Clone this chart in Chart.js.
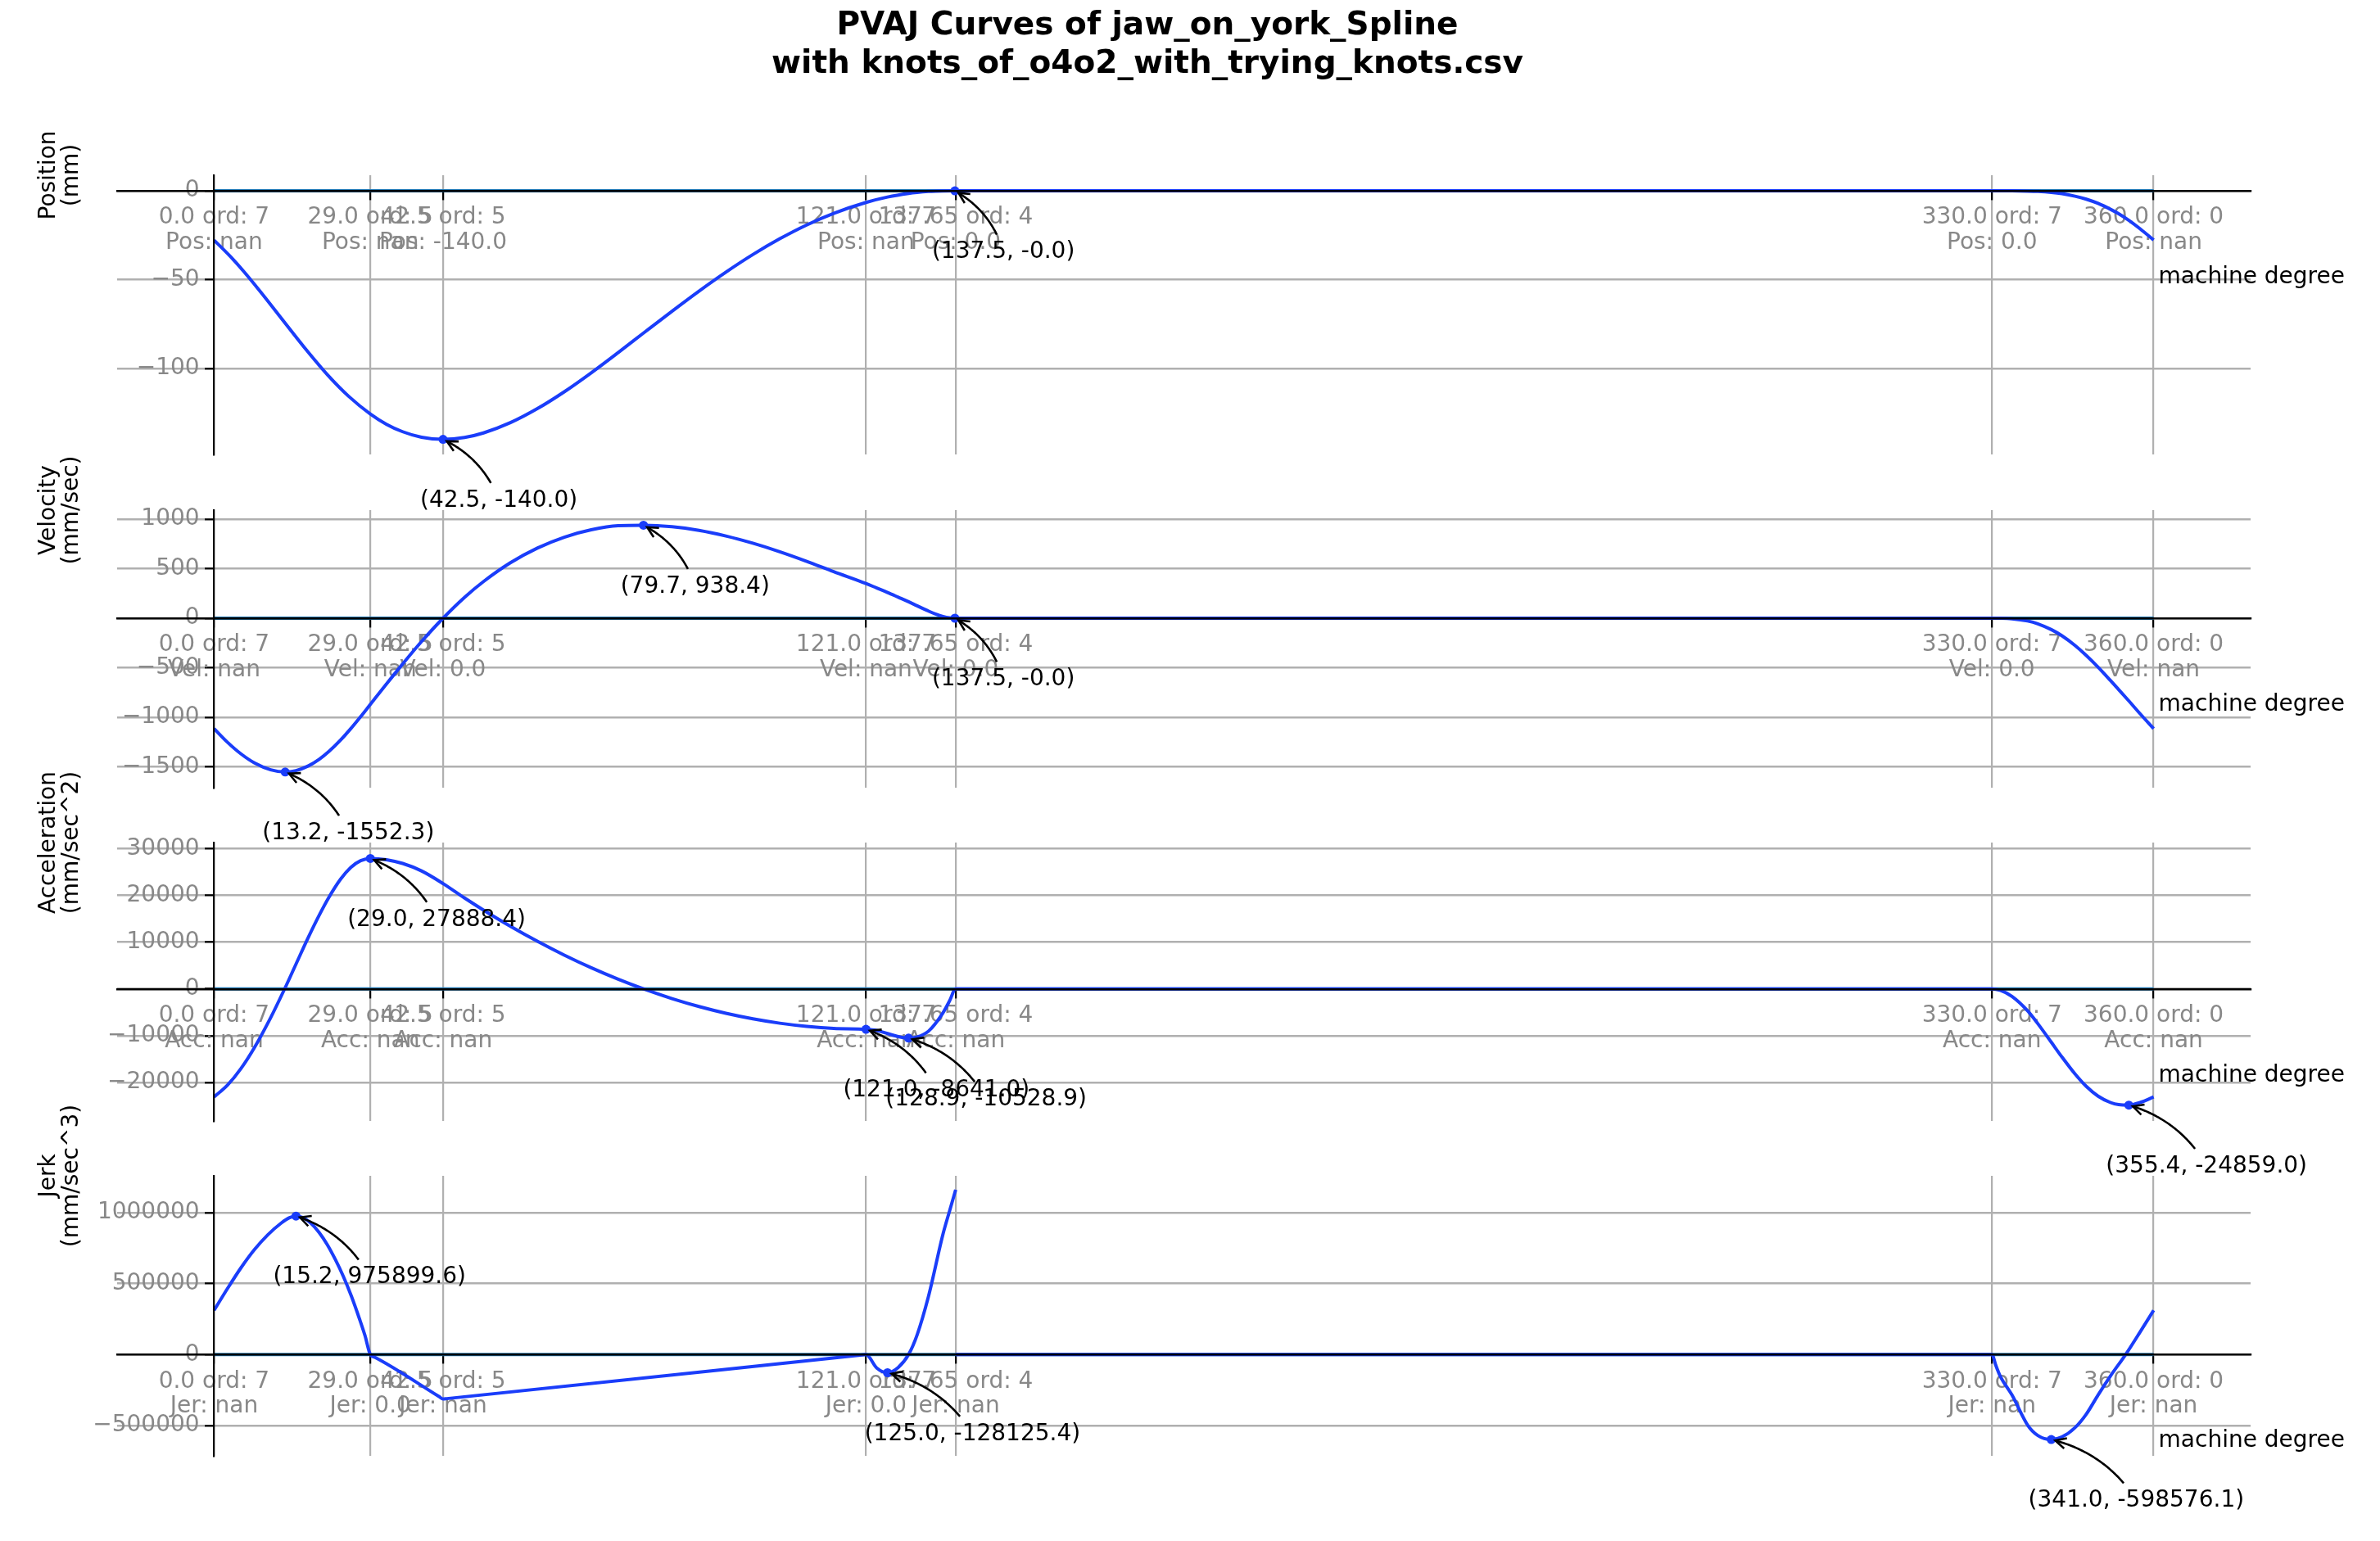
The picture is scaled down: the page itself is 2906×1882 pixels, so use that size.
<!DOCTYPE html>
<html>
<head>
<meta charset="utf-8">
<title>PVAJ Curves</title>
<script src="https://cdn.jsdelivr.net/npm/chart.js@4.4.1/dist/chart.umd.min.js"></script>
<style>
  html, body { margin:0; padding:0; background:#ffffff; }
  #wrap { position:relative; width:2906px; height:1882px; background:#ffffff; overflow:hidden; }
  #wrap canvas { position:absolute; left:0; top:0; width:2906px; height:1882px; }
</style>
</head>
<body>
<div id="wrap">
  <canvas id="c0" width="2906" height="1882"></canvas>
  <canvas id="c1" width="2906" height="1882"></canvas>
  <canvas id="c2" width="2906" height="1882"></canvas>
  <canvas id="c3" width="2906" height="1882"></canvas>
</div>
<script>
// ================= DATA =================
const titleLines = ['PVAJ Curves of jaw_on_york_Spline', 'with knots_of_o4o2_with_trying_knots.csv'];
const xAxisLabel = 'machine degree';

// knots (x ticks)
const knotX    = [0, 29, 42.5, 121, 137.65, 330, 360];
const knotText = ['0.0', '29.0', '42.5', '121.0', '137.65', '330.0', '360.0'];
const knotOrd  = [7, 5, 5, 7, 4, 7, 0];
const knotPos  = ['nan', 'nan', '-140.0', 'nan', '0.0', '0.0', 'nan'];
const knotVel  = ['nan', 'nan', '0.0', 'nan', '0.0', '0.0', 'nan'];
const knotAcc  = ['nan', 'nan', 'nan', 'nan', 'nan', 'nan', 'nan'];
const knotJer  = ['nan', '0.0', 'nan', '0.0', 'nan', 'nan', 'nan'];

// y tick values
const posTicks = [0, -50, -100];
const velTicks = [1000, 500, 0, -500, -1000, -1500];
const accTicks = [30000, 20000, 10000, 0, -10000, -20000];
const jerTicks = [1000000, 500000, 0, -500000];

// Position curve (deg, mm)
const posX = [0, 2.9, 5.5, 8.2, 11, 13.2, 16.8, 21.1, 25, 29, 32, 35, 38.5, 42.5, 46.5, 50, 55, 60, 65, 70, 75, 79.7, 85, 90, 95, 100, 105, 110, 115, 121, 125, 128.9, 130.5, 132.6, 134, 135.3, 137.65,
              330, 333.7, 336.6, 338.5, 341, 343, 345.4, 347.5, 349.7, 352, 353.5, 355.4, 357.5, 360];
const posY = [-27.8, -36.6, -45.4, -55.3, -66, -74.6, -88.4, -103.8, -115.8, -125.7, -131.5, -135.7, -138.8, -140, -138.95, -136.4, -130.6, -122.7, -113.2, -102.5, -91.1, -80.1, -67.8, -56.5, -45.8, -35.9, -27, -19.2, -12.7, -6.55, -3.5, -1.43, -0.85, -0.33, -0.14, -0.04, 0,
              0, -0.02, -0.14, -0.34, -0.88, -1.62, -3.0, -4.7, -7.1, -10.4, -12.9, -16.6, -21.4, -27.7];

// Velocity curve (deg, mm/sec)
const velX = [0, 2.5, 5, 7.5, 10.5, 13.2, 15.2, 17.5, 19.5, 21.3, 23.5, 25.4, 27.2, 29, 32, 35, 38.5, 42.5, 46.5, 50, 55, 60, 65, 70, 75, 79.7, 85, 90, 95, 100, 105, 110, 115, 121, 123, 125, 127, 128.9, 130.5, 132.6, 134, 135.3, 136.5, 137.65,
              330, 331.5, 333.7, 336.6, 338.5, 341, 343, 345.4, 347.5, 349.7, 352, 353.5, 355.4, 357.5, 360];
const velY = [-1115, -1253, -1370, -1461, -1530, -1552.3, -1538, -1491, -1425, -1346, -1229, -1113, -994, -870, -664, -462, -236, 0, 211, 370, 560, 708, 818, 892, 934, 938.4, 924, 887, 830, 757, 671, 574, 470, 350, 305, 260, 212, 166, 125, 72, 40, 18, 5, 0,
              0, -0.6, -6, -28, -56, -115, -178, -275, -376, -495, -630, -720, -835, -965, -1115];

// Acceleration curve (deg, mm/sec^2)
const accX = [0, 2.5, 5, 7.5, 10.5, 13, 15.2, 17.5, 19.5, 21.3, 23.5, 25.4, 27.2, 29, 32, 35, 38.5, 42.5, 46.5, 50, 55, 60, 65, 70, 75, 80, 85, 90, 95, 100, 105, 110, 115, 121, 123, 125, 127, 128.9, 130.5, 132.6, 135.3, 136.5, 137.65,
              330, 331.5, 333.7, 336.6, 338.5, 341, 343, 345.4, 347.5, 349.7, 352, 353.5, 355.4, 357.5, 360];
const accY = [-23117, -20571, -17023, -12530, -6158, -229, 5293, 11036, 15728, 19559, 23496, 25992, 27418, 27888.4, 27623, 26830, 25234, 22528, 19430, 16860, 13393, 10181, 7223, 4517, 2064, -136, -2083, -3778, -5219, -6407, -7343, -8025, -8456, -8641, -8900, -9560, -10200, -10528.9, -10290, -9050, -5100, -2600, 0,
              0, -306, -1605, -4680, -7430, -11400, -14600, -18180, -20850, -22950, -24310, -24760, -24859, -24300, -23117];

// Jerk curve, two pieces (deg, mm/sec^3)
const jerX1 = [0, 2.5, 5, 7.5, 10, 12.5, 14, 15.2, 16.5, 18, 19.5, 21, 22.5, 24, 25.5, 27, 28, 29, 29.8, 41.8, 42.5, 43.2, 120.3, 121, 123, 125, 127, 128.9, 130.5, 132.6, 135.3, 136.5, 137.65];
const jerY1 = [311600, 466000, 612000, 740000, 845000, 928000, 965000, 975899.6, 965000, 925000, 860000, 775000, 670000, 550000, 410000, 250000, 135000, 0, -18570, -297150, -313400, -310600, -2795, 0, -95000, -128125.4, -90000, 0, 140000, 410000, 850000, 1010000, 1161600];
const jerX2 = [137.65, 330, 330.7, 331.5, 333.7, 336.6, 338.5, 341, 343, 345.4, 347.5, 349.7, 352, 354.8, 357.5, 360];
const jerY2 = [0, 0, -75000, -150000, -284500, -496000, -570000, -598576.1, -580000, -515300, -420000, -284500, -150000, 0, 160000, 311600];

// annotated extremes
const posAnnX = [42.5, 137.5];
const posAnnY = [-140.0, 0];
const posAnnT = ['(42.5, -140.0)', '(137.5, -0.0)'];
const velAnnX = [13.2, 79.7, 137.5];
const velAnnY = [-1552.3, 938.4, 0];
const velAnnT = ['(13.2, -1552.3)', '(79.7, 938.4)', '(137.5, -0.0)'];
const accAnnX = [29.0, 121.0, 128.9, 355.4];
const accAnnY = [27888.4, -8641.0, -10528.9, -24859.0];
const accAnnT = ['(29.0, 27888.4)', '(121.0, -8641.0)', '(128.9, -10528.9)', '(355.4, -24859.0)'];
const jerAnnX = [15.2, 125.0, 341.0];
const jerAnnY = [975899.6, -128125.4, -598576.1];
const jerAnnT = ['(15.2, 975899.6)', '(125.0, -128125.4)', '(341.0, -598576.1)'];

// ================= STYLE / LAYOUT =================
const FONT = '"DejaVu Sans", "Liberation Sans", sans-serif';
const BLUE = '#1a3dfa';
const ZERO_BLUE = '#1f77b4';
const GRID = '#b0b0b0';
const GREY = '#888888';
const AX_LEFT = 143, AX_RIGHT = 2748, W = 2906, H = 1882;
const X_MIN = -18, X_MAX = 378;
const ANN_DX = 28, ANN_DY = 82.3;
const YLABEL_GAP = '\u0020\u0020';   // keeps y tick text clear of the tick marks

const PANELS = [
  { id: 'c0', top: 214, bottom: 555, min: -148.5, max: 8.8, ticks: posTicks,
    segs: [[posX, posY]], annX: posAnnX, annY: posAnnY, annT: posAnnT,
    label: ['Position', '(mm)'], prefix: 'Pos', kv: knotPos, title: true },
  { id: 'c1', top: 623, bottom: 962, min: -1711, max: 1091, ticks: velTicks,
    segs: [[velX, velY]], annX: velAnnX, annY: velAnnY, annT: velAnnT,
    label: ['Velocity', '(mm/sec)'], prefix: 'Vel', kv: knotVel },
  { id: 'c2', top: 1029, bottom: 1369, min: -28250, max: 31300, ticks: accTicks,
    segs: [[accX, accY]], annX: accAnnX, annY: accAnnY, annT: accAnnT,
    label: ['Acceleration', '(mm/sec^2)'], prefix: 'Acc', kv: knotAcc },
  { id: 'c3', top: 1436, bottom: 1778, min: -713800, max: 1259700, ticks: jerTicks,
    segs: [[jerX1, jerY1], [jerX2, jerY2]], annX: jerAnnX, annY: jerAnnY, annT: jerAnnT,
    label: ['Jerk', '(mm/sec^3)'], prefix: 'Jer', kv: knotJer }
];

const fmtTick = v => (v < 0 ? '\u2212' + Math.abs(v) : String(v)) + YLABEL_GAP;

function drawArrow(ctx, sx, sy, ex, ey, box) {
  const f = 0.2;
  const dx = ex - sx, dy = ey - sy;
  const cx = (sx + ex) / 2 - f * dy, cy = (sy + ey) / 2 + f * dx;
  const B = t => { const u = 1 - t; return [u*u*sx + 2*u*t*cx + t*t*ex, u*u*sy + 2*u*t*cy + t*t*ey]; };
  let t0 = 0;
  for (let t = 0; t <= 1; t += 0.001) {
    const p = B(t);
    if (p[0] < box.l || p[0] > box.r || p[1] < box.t || p[1] > box.b) { t0 = t; break; }
  }
  let t1 = 1;
  for (let t = 1; t >= t0; t -= 0.001) {
    const p = B(t);
    if (Math.hypot(p[0] - ex, p[1] - ey) >= 5) { t1 = t; break; }
  }
  ctx.save();
  ctx.strokeStyle = '#000'; ctx.lineWidth = 2.6; ctx.lineCap = 'butt'; ctx.lineJoin = 'miter';
  ctx.beginPath();
  const n = 50;
  for (let k = 0; k <= n; k++) {
    const p = B(t0 + (t1 - t0) * k / n);
    if (k === 0) ctx.moveTo(p[0], p[1]); else ctx.lineTo(p[0], p[1]);
  }
  ctx.stroke();
  const h = B(t1), b = B(t1 - 0.02);
  const ang = Math.atan2(h[1] - b[1], h[0] - b[0]);
  const L = 13, HW = 6.5;
  const bx = h[0] - L * Math.cos(ang), by = h[1] - L * Math.sin(ang);
  ctx.beginPath();
  ctx.moveTo(bx - HW * Math.sin(ang), by + HW * Math.cos(ang));
  ctx.lineTo(h[0], h[1]);
  ctx.lineTo(bx + HW * Math.sin(ang), by - HW * Math.cos(ang));
  ctx.stroke();
  ctx.restore();
}

function makePanel(P) {
  const datasets = [];
  datasets.push({
    type: 'scatter', label: 'extremes',
    data: P.annX.map((x, i) => ({ x: x, y: P.annY[i] })),
    backgroundColor: BLUE, borderColor: BLUE, borderWidth: 0, pointRadius: 5.5,
    showLine: false, order: 0
  });
  P.segs.forEach((s, k) => {
    datasets.push({
      type: 'line', label: 'curve' + k,
      data: s[0].map((x, i) => ({ x: x, y: s[1][i] })),
      borderColor: BLUE, borderWidth: 4, pointRadius: 0, fill: false,
      cubicInterpolationMode: 'monotone', order: 1
    });
  });
  datasets.push({
    type: 'line', label: 'zero',
    data: [{ x: knotX[0], y: 0 }, { x: knotX[knotX.length - 1], y: 0 }],
    borderColor: ZERO_BLUE, borderWidth: 4, pointRadius: 0, fill: false, order: 2
  });

  const overlay = {
    id: 'overlay' + P.id,
    afterDraw(chart) {
      const ctx = chart.ctx, xs = chart.scales.x, ys = chart.scales.y;
      ctx.save();
      if (P.title) {
        ctx.fillStyle = '#000';
        ctx.font = 'bold 39px ' + FONT;
        ctx.textAlign = 'center'; ctx.textBaseline = 'alphabetic';
        ctx.fillText(titleLines[0], 1401, 42);
        ctx.fillText(titleLines[1], 1401, 89);
      }
      ctx.font = '28px ' + FONT;
      ctx.fillStyle = '#000';
      ctx.textAlign = 'center'; ctx.textBaseline = 'alphabetic';
      const ycen = chart.chartArea.top;
      [[P.label[0], 67], [P.label[1], 95]].forEach(([t, bx]) => {
        ctx.save(); ctx.translate(bx, ycen); ctx.rotate(-Math.PI / 2);
        ctx.fillText(t, 0, 0); ctx.restore();
      });
      const zeroPx = ys.getPixelForValue(0);
      ctx.textAlign = 'left';
      ctx.fillText(xAxisLabel, xs.getPixelForValue(knotX[knotX.length - 1]) + 6, zeroPx + 113);
      P.annX.forEach((ax, i) => {
        const px = xs.getPixelForValue(ax), py = ys.getPixelForValue(P.annY[i]);
        const txt = P.annT[i];
        const w = ctx.measureText(txt).width;
        const tx = px - ANN_DX, base = py + ANN_DY;
        ctx.fillStyle = '#000'; ctx.textAlign = 'left';
        ctx.fillText(txt, tx, base);
        const box = { l: tx - 5.6, r: tx + w + 5.6, t: base - 23.3 - 5.6, b: base + 6.7 + 5.6 };
        drawArrow(ctx, tx + w / 2, base - 8.3, px, py, box);
      });
      ctx.restore();
    }
  };

  return new Chart(document.getElementById(P.id), {
    type: 'line',
    data: { datasets },
    options: {
      responsive: false, animation: false, devicePixelRatio: 1, events: [],
      layout: { padding: { left: AX_LEFT, right: W - AX_RIGHT, top: P.top, bottom: H - P.bottom } },
      plugins: { legend: { display: false }, title: { display: false }, tooltip: { enabled: false } },
      scales: {
        x: {
          type: 'linear', min: X_MIN, max: X_MAX, position: { y: 0 },
          afterBuildTicks: s => { s.ticks = knotX.map(v => ({ value: v })); },
          ticks: {
            autoSkip: false, maxRotation: 0, minRotation: 0, color: GREY, padding: 7.6,
            font: { family: FONT, size: 28, lineHeight: 1.1 },
            callback: (v, i) => [knotText[i] + ' ord: ' + knotOrd[i], P.prefix + ': ' + P.kv[i]]
          },
          grid: { color: GRID, lineWidth: 2.2, tickLength: 10, tickColor: '#000', tickWidth: 2.2, drawOnChartArea: true },
          border: { color: '#000', width: 2.4, z: 1 }
        },
        y: {
          type: 'linear', min: P.min, max: P.max, position: { x: 0 },
          afterBuildTicks: s => { s.ticks = P.ticks.map(v => ({ value: v })); },
          ticks: { color: GREY, padding: 0, font: { family: FONT, size: 28 }, callback: v => fmtTick(v) },
          grid: { color: GRID, lineWidth: 2.6, tickLength: 10, tickColor: '#000', tickWidth: 2.2 },
          border: { color: '#000', width: 2.2, z: 1 }
        }
      }
    },
    plugins: [overlay]
  });
}

PANELS.forEach(makePanel);
</script>
</body>
</html>
